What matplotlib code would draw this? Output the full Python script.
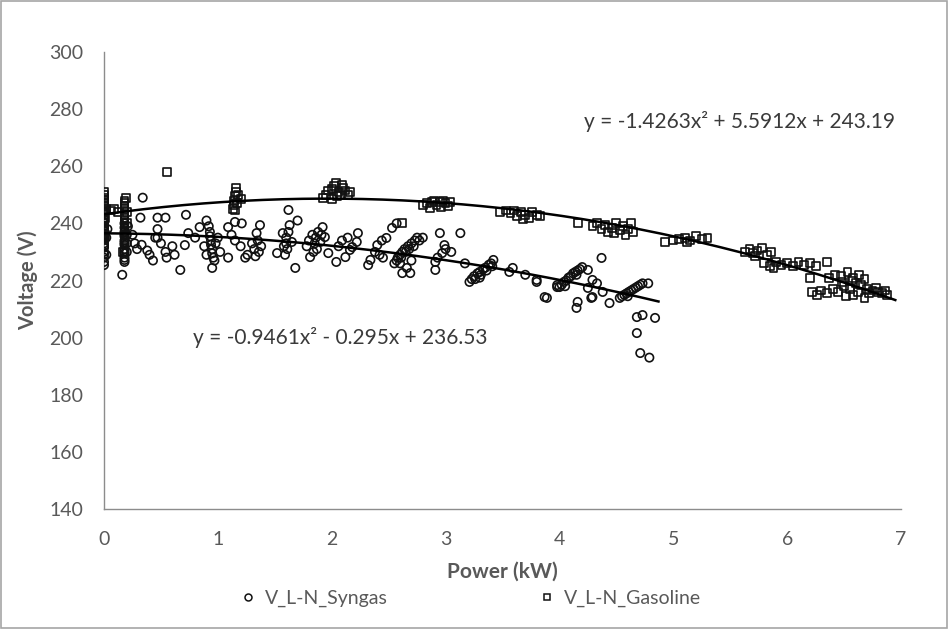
import numpy as np
import matplotlib
matplotlib.use('Agg')
import matplotlib.pyplot as plt
from matplotlib.patches import Rectangle
from matplotlib.lines import Line2D

plt.rcParams['font.family'] = ['Lato', 'DejaVu Sans']

# syngas points (power kW, voltage V)
syngas_x = [
    0, 0, 0, 0, 0, 0, 0, 0, 0, 0, 0, 0.01, 0.02, 0.02, 0.03, 0, 0, 0, 0, 0,
    0.16, 0.18, 0.18, 0.18, 0.18, 0.18, 0.18, 0.18, 0.18, 0.18, 0.18, 0.2, 0.2, 0.2, 0.21,
    0.18, 0.18, 0.18, 0.18,
    0.34, 0.32, 0.47, 0.54, 0.72, 0.47, 0.47, 0.29, 0.33, 0.40, 0.43, 0.54, 0.55, 0.62, 0.67,
    0.71, 0.45, 0.74, 0.80, 0.84, 0.5, 0.6, 0.38, 0.25, 0.27,
    0.9, 0.92, 0.93, 0.93, 0.94, 0.94, 0.95, 0.95, 0.96, 0.97, 0.95, 0.98, 1.0, 0.88, 0.9, 1.02,
    1.09, 1.09, 1.15, 1.21, 1.15, 1.12, 1.2, 1.24, 1.26,
    1.30, 1.34, 1.37, 1.32, 1.35, 1.36, 1.33, 1.38,
    1.52, 1.57, 1.59, 1.60, 1.60, 1.61, 1.62, 1.63, 1.68, 1.70, 1.62, 1.65, 1.58,
    1.78, 1.80, 1.81, 1.83, 1.85, 1.86, 1.87, 1.88, 1.9, 1.91, 1.92, 1.94, 1.97, 1.84,
    2.04, 2.09, 2.12, 2.16, 2.18, 2.22, 2.23, 2.06, 2.14,
    2.32, 2.34, 2.40, 2.44, 2.45, 2.48, 2.53, 2.57, 2.38, 2.42,
    2.55, 2.57, 2.58, 2.6, 2.61, 2.62, 2.64, 2.65, 2.67, 2.68, 2.7, 2.72, 2.73, 2.75, 2.77,
    2.62, 2.66, 2.69, 2.80, 2.6, 2.7,
    2.91, 2.91, 2.95, 2.97, 2.99, 3.13, 3.17, 3.0, 2.93, 3.05,
    3.21, 3.23, 3.25, 3.26, 3.28, 3.3, 3.31, 3.33, 3.35, 3.36, 3.38, 3.4, 3.41, 3.42, 3.3,
    3.59, 3.56, 3.80, 3.80, 3.87, 3.89, 3.98, 3.98, 3.7,
    4.0, 4.02, 4.04, 4.06, 4.08, 4.1, 4.12, 4.14, 4.16, 4.18, 4.2, 4.05, 4.15,
    4.25, 4.29, 4.37, 4.25, 4.28, 4.29, 4.16, 4.15, 4.44, 4.38, 4.33,
    4.53, 4.55, 4.57, 4.59, 4.61, 4.63, 4.65, 4.67, 4.69, 4.71, 4.73, 4.78, 4.6,
    4.68, 4.73, 4.84, 4.68, 4.71, 4.79,
]
syngas_v = [
    225.4, 228, 230, 231.5, 233, 234.5, 236, 237.5, 239, 240.5, 242, 244, 229, 235, 238,
    226.5, 229.2, 232.2, 235.2, 238.2,
    222, 226.5, 228, 229.5, 231, 232.5, 234, 235.5, 237, 238.5, 240, 230, 233, 236, 239,
    227.2, 230.2, 233.2, 236.2,
    249, 242, 242, 242, 243, 238, 235, 231, 232.5, 229, 227, 230, 228, 229, 223.7,
    232.4, 235, 236.6, 235, 238.7, 233, 232, 230.5, 236, 233,
    241, 239, 237, 235.5, 234, 232.5, 231, 229.5, 228, 227, 224.4, 233, 235, 232, 229, 230,
    228, 238.7, 240.5, 240, 234, 236, 232, 228, 229,
    233, 236.6, 239.4, 231, 234, 230, 228.5, 232,
    229.6, 236.6, 229, 235, 233, 231, 244.7, 239.4, 224.4, 241, 237, 233.5, 232,
    232, 234, 228.2, 236, 233, 235, 231, 237, 233.5, 236, 238.7, 235.2, 229.6, 230,
    226.5, 234, 228.2, 230.7, 231.7, 233.5, 236.6, 232, 235,
    225.4, 227.2, 232.4, 234, 228, 234.9, 238.4, 240, 230, 229,
    226, 227, 228, 229, 228, 230, 231, 230, 232, 231, 233, 232, 234, 235, 234,
    222.6, 224.4, 222.6, 235, 226, 227,
    223.7, 226.5, 236.6, 229.6, 232.4, 236.6, 226, 231, 228, 230,
    219.5, 220.5, 221.5, 220.5, 222.5, 223, 222, 224, 224.5, 223.5, 225.5, 226, 225, 227.2, 221,
    224.4, 223, 219.5, 220.2, 214.2, 213.9, 217.7, 218.4, 222,
    217.7, 218.5, 219.5, 220, 221, 221.5, 222.5, 223, 223.5, 224, 224.7, 218, 222,
    223.7, 220.2, 227.9, 217.4, 213.9, 214.2, 212.5, 210.4, 212.1, 216, 219,
    213.9, 214.5, 215, 215.5, 216, 216.5, 217, 217.5, 218, 218.5, 219, 219, 214.5,
    207.2, 207.9, 206.9, 201.6, 194.6, 193,
]

# gasoline points
gasoline_x = [
    0, 0, 0, 0, 0, 0, 0, 0, 0, 0, 0, 0, 0.01, 0.01, 0.02,
    0, 0, 0, 0, 0, 0, 0, 0,
    0.06, 0.09, 0.12,
    0.18, 0.18, 0.18, 0.18, 0.18, 0.18, 0.18, 0.18, 0.19, 0.2, 0.2, 0.17,
    0.18, 0.18, 0.18, 0.18, 0.18, 0.18, 0.18,
    0.55,
    1.13, 1.14, 1.14, 1.15, 1.16, 1.16, 1.17, 1.18, 1.2, 1.15,
    1.92, 1.95, 1.97, 2.0, 2.02, 2.04, 2.06, 2.08, 2.1, 2.12, 2.14, 2.16, 2.0, 2.05, 2.09,
    2.62,
    2.8, 2.84, 2.88, 2.9, 2.92, 2.95, 2.98, 3.0, 3.02, 3.04, 2.86, 2.96,
    3.48, 3.53, 3.57, 3.6, 3.63, 3.66, 3.7, 3.73, 3.76, 3.8, 3.83, 3.68,
    4.16,
    4.29, 4.33, 4.37, 4.4, 4.43, 4.46, 4.5, 4.53, 4.56, 4.6, 4.63, 4.65, 4.48, 4.58,
    4.93,
    5.0, 5.05, 5.1, 5.15, 5.2, 5.25, 5.3, 5.12,
    5.63, 5.67, 5.7, 5.74, 5.78, 5.82, 5.86, 5.72,
    5.8, 5.85, 5.9, 5.95, 6.0, 6.05, 6.1, 6.15, 6.2, 6.25, 6.35, 5.88,
    6.20,
    6.37, 6.42, 6.47, 6.53, 6.58, 6.63, 6.68,
    6.22, 6.26, 6.3, 6.35, 6.4, 6.45, 6.5, 6.55, 6.6, 6.62, 6.65, 6.7, 6.72, 6.75, 6.78,
    6.8, 6.83, 6.86, 6.88, 6.52, 6.58, 6.68, 6.48, 6.57,
]
gasoline_v = [
    234, 235.5, 237, 238.5, 240, 241.5, 243, 244.5, 246, 247.5, 249, 251, 236, 242, 245,
    234.8, 236.2, 239.2, 240.8, 243.8, 246.8, 248.2, 250,
    244.5, 245, 244,
    233, 235, 237, 239, 241, 243, 245, 247, 249, 240, 244, 230,
    234, 236, 238, 240, 242, 246, 248,
    258,
    245, 246.5, 248, 249.5, 251, 252.4, 247, 250, 248.5, 244.5,
    249, 250, 251.5, 252, 253, 254, 251, 250, 252.5, 251.5, 250, 251, 248.5, 249.5, 253.5,
    240,
    246.5, 247, 247.5, 248, 246.5, 247.5, 248, 247, 246, 247.5, 245.5, 245.8,
    244, 244.5, 243.5, 244.5, 242.5, 244, 243, 242, 244, 243, 242.5, 241.5,
    240,
    239, 240, 238, 239.5, 237, 238.5, 240, 237.5, 239, 238, 240, 237, 236.5, 236,
    233.5,
    234, 234.5, 235, 234, 235.5, 234.5, 235, 233.5,
    230, 231, 229.5, 230.5, 231.5, 229, 230, 228.5,
    226, 225, 226.5, 225.5, 226, 225, 226.5, 225.5, 226, 225, 226.5, 224.5,
    220.9,
    221, 222, 221.5, 223, 221, 222, 220.5,
    216, 215, 216.5, 215.5, 217, 216, 218, 217, 219, 216, 218.5, 217, 215.5, 216.5, 217.5,
    216, 215.5, 216.5, 215, 214.5, 215, 214, 219.5, 220,
]

# polynomial trendlines (coefficients as printed on the chart)
syngas_coef = [-0.9461, -0.295, 236.53]
gasoline_coef = [-1.4263, 5.5912, 243.19]
syngas_fit_range = (0, 4.87)
gasoline_fit_range = (0, 6.95)

xticks = [0, 1, 2, 3, 4, 5, 6, 7]
yticks = [140, 160, 180, 200, 220, 240, 260, 280, 300]

grey_text = '#595959'
axis_grey = '#8c8c8c'

fig = plt.figure(figsize=(9.49, 6.29), dpi=100)
ax = fig.add_axes([0.1096, 0.1908, 0.8398, 0.7265])

ax.scatter(syngas_x, syngas_v, marker='o', s=36, facecolors='none',
           edgecolors='#111111', linewidths=1.2, zorder=3)
ax.scatter(gasoline_x, gasoline_v, marker='s', s=32, facecolors='none',
           edgecolors='#111111', linewidths=1.2, zorder=3)

xs = np.linspace(*syngas_fit_range, 200)
ax.plot(xs, np.polyval(syngas_coef, xs), color='black', linewidth=1.8, zorder=4)
xg = np.linspace(*gasoline_fit_range, 200)
ax.plot(xg, np.polyval(gasoline_coef, xg), color='black', linewidth=1.8, zorder=4)

ax.text(4.22, 275.8, 'y = -1.4263x\u00b2 + 5.5912x + 243.19', fontsize=15,
        color='#3a3a3a', ha='left', va='center')
ax.text(0.78, 199.9, 'y = -0.9461x\u00b2 - 0.295x + 236.53', fontsize=15,
        color='#3a3a3a', ha='left', va='center')

ax.set_xlim(0, 7)
ax.set_ylim(140, 300)
ax.set_xticks(xticks)
ax.set_yticks(yticks)
ax.tick_params(axis='x', length=0, pad=16, labelsize=14, labelcolor=grey_text)
ax.tick_params(axis='y', length=0, pad=15, labelsize=14, labelcolor=grey_text)

for side in ['top', 'right']:
    ax.spines[side].set_visible(False)
for side in ['left', 'bottom']:
    ax.spines[side].set_color(axis_grey)
    ax.spines[side].set_linewidth(1.0)

ax.set_xlabel('Power (kW)', fontsize=15, fontweight='bold', color=grey_text, labelpad=10)
ax.set_ylabel('Voltage (V)', fontsize=14.5, fontweight='bold', color=grey_text, labelpad=8)

handles = [
    Line2D([], [], linestyle='none', marker='o', markersize=5, markerfacecolor='none',
           markeredgecolor='#111111', markeredgewidth=1.1),
    Line2D([], [], linestyle='none', marker='s', markersize=5, markerfacecolor='none',
           markeredgecolor='#111111', markeredgewidth=1.1),
]
fig.legend(handles, ['V_L-N_Syngas', 'V_L-N_Gasoline'], loc='center',
           bbox_to_anchor=(0.496, 0.048), ncol=2, frameon=False, fontsize=14,
           labelcolor=grey_text, columnspacing=7.8, handletextpad=0.45, handlelength=0.8)

fig.patches.append(Rectangle((0.001, 0.002), 0.997, 0.996, transform=fig.transFigure,
                             fill=False, edgecolor='#a6a6a6', linewidth=1.2))

plt.savefig('out.png', dpi=100)
